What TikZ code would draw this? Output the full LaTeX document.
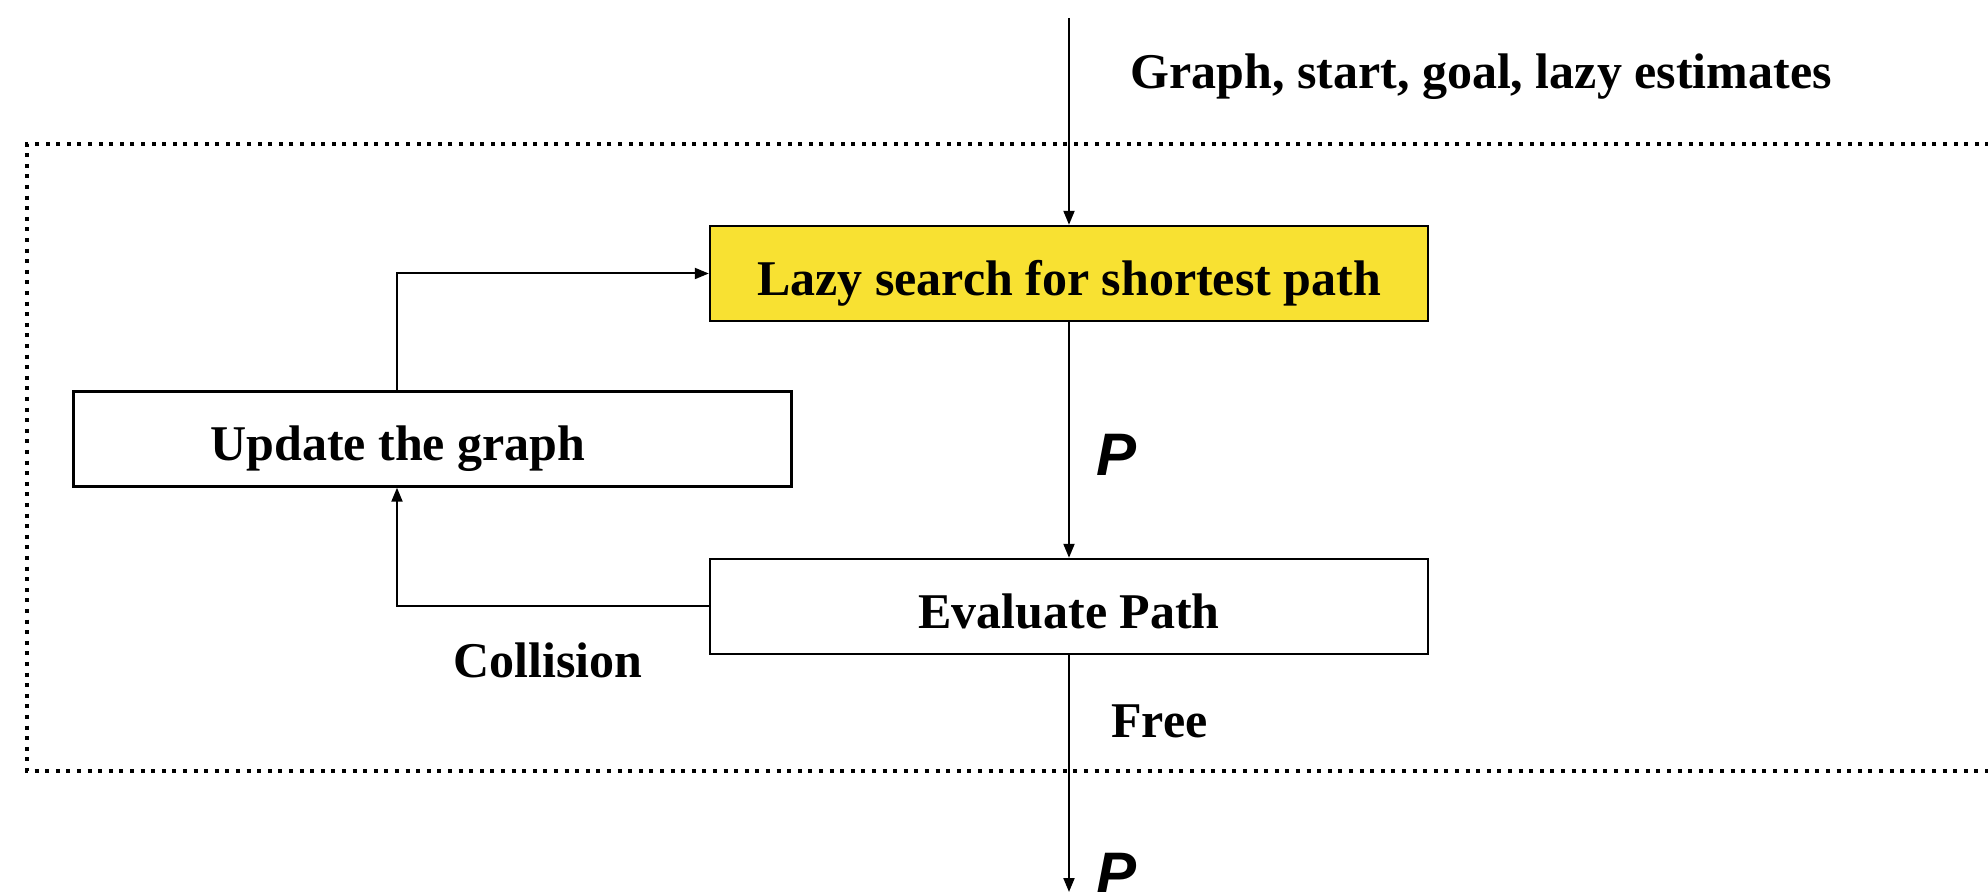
\documentclass[tikz,border=0pt]{standalone}
\usepackage{fontspec}
\setmainfont{Liberation Serif}
\newfontfamily\labelsans{Liberation Sans}
\usetikzlibrary{arrows.meta}
\definecolor{boxyellow}{RGB}{248,225,50}
\begin{document}
\begin{tikzpicture}[x=0.5pt,y=-0.5pt,
  stepbox/.style={draw, line width=1.2pt, minimum width=359pt, minimum height=47.5pt,
    inner sep=0pt, text height=22pt, text depth=0pt,
    font=\fontsize{25}{30}\selectfont\bfseries},
  arr/.style={line width=1pt, -{Triangle[length=7pt,width=5.5pt]}},
  lbl/.style={inner sep=0pt, anchor=base west, font=\fontsize{25}{30}\selectfont\bfseries},
  plbl/.style={inner sep=0pt, anchor=base west, font=\fontsize{30}{34}\selectfont\labelsans\bfseries\itshape},
  frame/.style={line width=2pt, dash pattern=on 2pt off 3.3pt}]
\useasboundingbox (0,0) rectangle (1988,892);
% dotted frame (open on the right)
\draw[frame] (2000,144) -- (27,144) -- (27,771) -- (2000,771);
% boxes
\node[stepbox, fill=boxyellow] (lazy) at (1069,273.5) {Lazy search for shortest path};
\node[stepbox, fill=white] (update) at (432.5,439) {\hspace*{-17.25pt}Update the graph\hspace*{17.25pt}};
\node[stepbox, fill=white] (eval) at (1069,606.5) {Evaluate Path};
% helper coordinates
\coordinate (in) at (1069,18);
\coordinate (out) at (1069,892);
\coordinate (xcol) at (397,0);
% connectors
\draw[arr] (in) -- (lazy.north);
\draw[arr] (lazy.south) -- (eval.north);
\draw[arr] (update.north -| xcol) |- (lazy.west);
\draw[arr] (eval.west) -| (update.south -| xcol);
\draw[arr] (eval.south) -- (out);
% labels
\node[lbl] (inputs) at (1130,89) {Graph, start, goal, lazy estimates};
\node[plbl] (p1) at (1096,476) {P};
\node[lbl] (coll) at (453,678) {Collision};
\node[lbl] (free) at (1111,738) {Free};
\node[plbl] (p2) at (1096,894) {P};
\end{tikzpicture}
\end{document}
